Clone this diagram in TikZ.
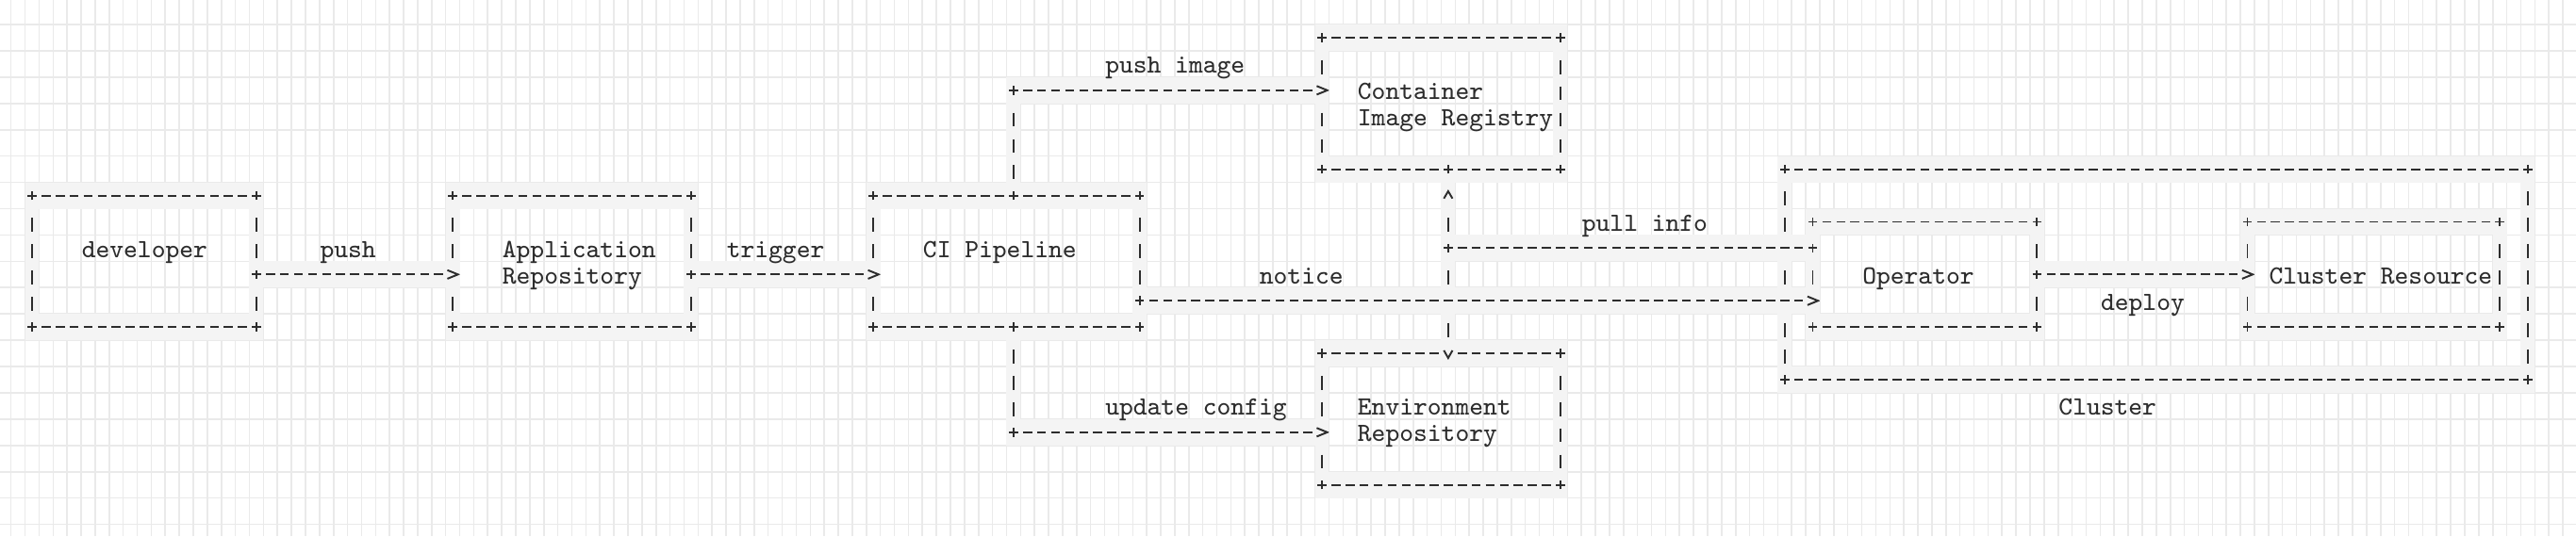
\documentclass[tikz,border=0pt]{standalone}
\usetikzlibrary{fit}

\definecolor{ink}{RGB}{45,45,45}
\definecolor{band}{RGB}{244,244,244}
\definecolor{gridc}{RGB}{234,234,234}

\tikzset{
  gridline/.style={draw=gridc, line width=0.45pt},
  glyph/.style={draw=ink, line width=0.55pt},
  % one character cell of the ascii drawing
  cell/.style={rectangle, inner sep=0pt, outer sep=0pt, minimum width=0.1487cm, minimum height=0.2792cm, fill=band},
  plus/.style={cell, path picture={\draw[glyph] (path picture bounding box.center) ++(-1.35pt,0pt) -- ++(2.7pt,0pt) ++(-1.35pt,-1.35pt) -- ++(0pt,2.7pt);}},
  hbar/.style={cell, path picture={\draw[glyph] (path picture bounding box.center) ++(-1.35pt,0pt) -- ++(2.7pt,0pt);}},
  rtip/.style={cell, path picture={\draw[glyph] (path picture bounding box.center) ++(-1.6pt,1.3pt) -- ++(3.2pt,-1.3pt) -- ++(-3.2pt,-1.3pt);}},
  utip/.style={cell, path picture={\draw[glyph] (path picture bounding box.center) ++(-1.3pt,-0.9pt) -- ++(1.3pt,2.2pt) -- ++(1.3pt,-2.2pt);}},
  dtip/.style={cell, path picture={\draw[glyph] (path picture bounding box.center) ++(-1.3pt,0.9pt) -- ++(1.3pt,-2.3pt) -- ++(1.3pt,2.3pt);}},
  hdash/.style={glyph, dash pattern=on 0.0952cm off 0.0535cm, dash phase=0.1219cm, preaction={draw=band, line width=0.2792cm, solid}},
  vdash/.style={glyph, dash pattern=on 0.148cm off 0.1312cm, dash phase=0.1815cm, preaction={draw=band, line width=0.1487cm, solid}},
  box/.style={rectangle, inner sep=0pt, outer sep=0pt},
  lbl/.style={inner sep=0pt, anchor=base west, text=ink, font=\fontsize{7.93}{9}\selectfont\ttfamily},
}

% frame of a box: dashes, bars and four corners
\newcommand\asciibox[1]{%
  \draw[hdash] ([shift={(.5,0)}]#1.north west) -- ([shift={(-.5,0)}]#1.north east)
               ([shift={(.5,0)}]#1.south west) -- ([shift={(-.5,0)}]#1.south east);
  \draw[vdash] ([shift={(0,.5)}]#1.north west) -- ([shift={(0,-.5)}]#1.south west)
               ([shift={(0,.5)}]#1.north east) -- ([shift={(0,-.5)}]#1.south east);
  \foreach \a in {north west,north east,south west,south east}
    \node[plus] at (#1.\a) {};
}

\begin{document}
\begin{tikzpicture}[x=0.1487cm, y=-0.2792cm]
  \fill[white] (-0.287,-1.433) rectangle (183.44,18.947);
  \useasboundingbox (-0.287,-1.433) rectangle (183.44,18.947);

  %grid
  \foreach \c in {-0.5,0.5,...,183.5}
    \draw[gridline] (\c,-1.433) -- (\c,18.947);
  \foreach \r in {-0.5,0.5,...,18.5}
    \draw[gridline] (-0.287,\r) -- (183.44,\r);

  %boxes
  \node[box, fit={(2,6) (18,11)}] (dev) {};
  \node[box, fit={(32,6) (49,11)}] (app) {};
  \node[box, fit={(62,6) (81,11)}] (ci) {};
  \node[box, fit={(94,0) (111,5)}] (reg) {};
  \node[box, fit={(94,12) (111,17)}] (env) {};
  \node[box, fit={(127,5) (180,13)}] (cluster) {};
  \node[box, fit={(129,7) (145,11)}] (op) {};
  \node[box, fit={(160,7) (178,11)}] (res) {};
  \foreach \b in {dev,app,ci,reg,env,cluster,op,res}
    \asciibox{\b};

  %ports on the frames
  \node[plus] (dev-push) at ([shift={(0,3)}]dev.north east) {};
  \node[rtip] (app-push) at ([shift={(0,3)}]app.north west) {};
  \node[plus] (app-trig) at ([shift={(0,3)}]app.north east) {};
  \node[rtip] (ci-trig) at ([shift={(0,3)}]ci.north west) {};
  \node[plus] (ci-up) at ([shift={(10,0)}]ci.north west) {};
  \node[plus] (ci-down) at ([shift={(10,0)}]ci.south west) {};
  \node[plus] (ci-out) at ([shift={(0,4)}]ci.north east) {};
  \node[rtip] (reg-in) at ([shift={(0,2)}]reg.north west) {};
  \node[plus] (reg-out) at ([shift={(9,0)}]reg.south west) {};
  \node[utip] (reg-tip) at ([shift={(9,1)}]reg.south west) {};
  \node[rtip] (env-in) at ([shift={(0,3)}]env.north west) {};
  \node[dtip] (env-tip) at ([shift={(9,0)}]env.north west) {};
  \node[plus] (op-out) at ([shift={(0,1)}]op.north west) {};
  \node[rtip] (op-in) at ([shift={(0,3)}]op.north west) {};
  \node[plus] (op-dep) at ([shift={(0,2)}]op.north east) {};
  \node[rtip] (res-in) at ([shift={(0,2)}]res.north west) {};
  \node[plus] (push-bend) at (ci-up |- reg-in) {};
  \node[plus] (upd-bend) at (ci-down |- env-in) {};
  \node[plus] (pull-bend) at (reg-out |- op-out) {};

  %connectors
  \draw[hdash] (dev-push) -- (app-push);
  \draw[hdash] (app-trig) -- (ci-trig);
  \draw[vdash] (push-bend) -- (ci-up);
  \draw[hdash] (push-bend) -- (reg-in);
  \draw[vdash] (ci-down) -- (upd-bend);
  \draw[hdash] (upd-bend) -- (env-in);
  \draw[hdash] (ci-out) -- (op-in);
  \draw[hdash] (pull-bend) -- (op-out);
  \draw[vdash] (reg-tip) -- (pull-bend);
  \draw[vdash] (pull-bend) -- (env-tip);
  \draw[hdash] (op-dep) -- (res-in);

  %crossings
  \node[hbar] (x1) at (pull-bend |- ci-out) {};
  \node[hbar] (x2) at (cluster.west |- op-out) {};
  \node[hbar] (x3) at (cluster.west |- op-in) {};

  %labels
  \node[lbl] (dev-l) at (5.5,8.35) {developer};
  \node[lbl] (push-l) at (22.5,8.35) {push};
  \node[lbl] (app-l1) at (35.5,8.35) {Application};
  \node[lbl] (app-l2) at (35.5,9.35) {Repository};
  \node[lbl] (trig-l) at (51.5,8.35) {trigger};
  \node[lbl] (ci-l) at (65.5,8.35) {CI Pipeline};
  \node[lbl] (pimg-l) at (78.5,1.35) {push image};
  \node[lbl] (reg-l1) at (96.5,2.35) {Container};
  \node[lbl] (reg-l2) at (96.5,3.35) {Image Registry};
  \node[lbl] (notice-l) at (89.5,9.35) {notice};
  \node[lbl] (pull-l) at (112.5,7.35) {pull info};
  \node[lbl] (upd-l) at (78.5,14.35) {update config};
  \node[lbl] (env-l1) at (96.5,14.35) {Environment};
  \node[lbl] (env-l2) at (96.5,15.35) {Repository};
  \node[lbl] (op-l) at (132.5,9.35) {Operator};
  \node[lbl] (dep-l) at (149.5,10.35) {deploy};
  \node[lbl] (res-l) at (161.5,9.35) {Cluster Resource};
  \node[lbl] (cluster-l) at (146.5,14.35) {Cluster};
\end{tikzpicture}
\end{document}
